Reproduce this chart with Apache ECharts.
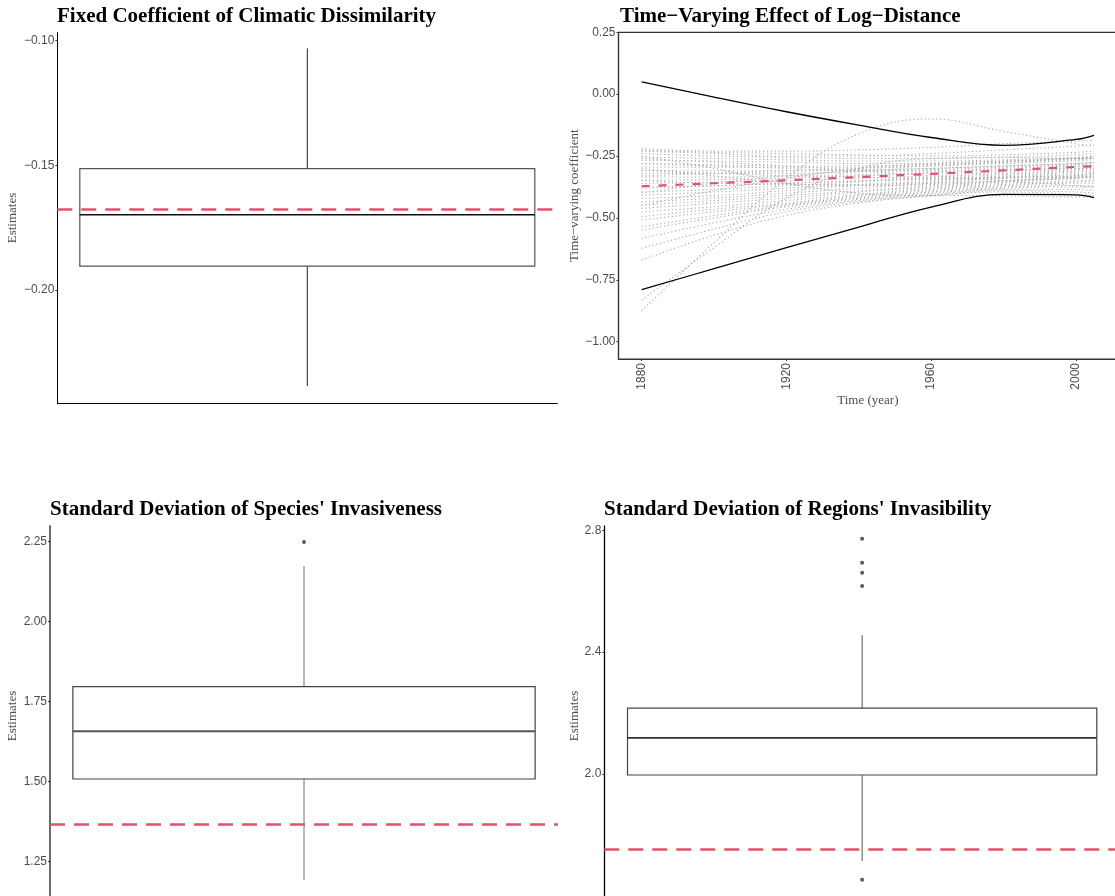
<!DOCTYPE html>
<html>
<head>
<meta charset="utf-8">
<title>Posterior estimates</title>
<script src="https://cdn.jsdelivr.net/npm/echarts@6/dist/echarts.min.js"></script>
<style>
  html, body { margin: 0; padding: 0; background: #fff; }
  #chart { width: 1115px; height: 896px; }
</style>
</head>
<body>
<div id="chart"></div>
<script>
// box summaries: [lower whisker, Q1, median, Q3, upper whisker]
const climaticBox = [-0.2385, -0.1904, -0.1698, -0.1513, -0.1031];
const climaticTrue = -0.1674;
const climaticTicks = [-0.20, -0.15, -0.10];

const speciesBox = [1.193, 1.5085, 1.6575, 1.797, 2.174];
const speciesOutliers = [2.249];
const speciesTrue = 1.3656;
const speciesTicks = [1.25, 1.50, 1.75, 2.00, 2.25];

const regionsBox = [1.713, 1.996, 2.118, 2.216, 2.456];
const regionsOutliers = [2.773, 2.694, 2.661, 2.618, 1.651];
const regionsTrue = 1.752;
const regionsTicks = [2.0, 2.4, 2.8];

// time-varying coefficient
const years = [1880, 1900, 1920, 1940, 1960, 1980, 2000, 2005];
const yearTicks = [1880, 1920, 1960, 2000];
const coefTicks = [-1.00, -0.75, -0.50, -0.25, 0.00, 0.25];
const upperBand = [0.050, -0.012, -0.071, -0.125, -0.175, -0.207, -0.183, -0.166];
const lowerBand = [-0.790, -0.705, -0.620, -0.537, -0.456, -0.405, -0.407, -0.418];
const meanCurve = [-0.372, -0.360, -0.348, -0.335, -0.322, -0.308, -0.294, -0.291];
// posterior draws (grey dotted)
const draws = [
  [-0.227, -0.235, -0.240, -0.245, -0.250, -0.245, -0.235, -0.230],
  [-0.240, -0.250, -0.255, -0.260, -0.260, -0.255, -0.245, -0.240],
  [-0.254, -0.260, -0.265, -0.270, -0.270, -0.265, -0.255, -0.250],
  [-0.267, -0.270, -0.275, -0.280, -0.280, -0.270, -0.260, -0.255],
  [-0.281, -0.285, -0.290, -0.290, -0.285, -0.275, -0.265, -0.260],
  [-0.294, -0.295, -0.295, -0.295, -0.290, -0.280, -0.270, -0.265],
  [-0.307, -0.310, -0.310, -0.305, -0.300, -0.290, -0.280, -0.275],
  [-0.321, -0.320, -0.320, -0.315, -0.305, -0.295, -0.285, -0.280],
  [-0.334, -0.335, -0.330, -0.325, -0.315, -0.300, -0.290, -0.285],
  [-0.348, -0.345, -0.340, -0.330, -0.320, -0.310, -0.295, -0.290],
  [-0.361, -0.355, -0.350, -0.340, -0.330, -0.315, -0.300, -0.295],
  [-0.375, -0.370, -0.360, -0.350, -0.335, -0.320, -0.305, -0.300],
  [-0.395, -0.385, -0.370, -0.355, -0.340, -0.325, -0.310, -0.305],
  [-0.408, -0.395, -0.380, -0.365, -0.350, -0.330, -0.315, -0.310],
  [-0.421, -0.410, -0.390, -0.370, -0.355, -0.335, -0.320, -0.315],
  [-0.435, -0.420, -0.400, -0.380, -0.360, -0.340, -0.325, -0.320],
  [-0.448, -0.430, -0.410, -0.390, -0.370, -0.350, -0.335, -0.330],
  [-0.462, -0.440, -0.420, -0.395, -0.375, -0.355, -0.340, -0.335],
  [-0.475, -0.455, -0.430, -0.405, -0.380, -0.360, -0.350, -0.345],
  [-0.495, -0.465, -0.440, -0.410, -0.385, -0.365, -0.355, -0.350],
  [-0.509, -0.475, -0.445, -0.415, -0.390, -0.370, -0.360, -0.360],
  [-0.536, -0.490, -0.450, -0.420, -0.395, -0.375, -0.370, -0.370],
  [-0.549, -0.500, -0.455, -0.425, -0.400, -0.380, -0.375, -0.375],
  [-0.583, -0.520, -0.465, -0.430, -0.405, -0.385, -0.385, -0.390],
  [-0.623, -0.545, -0.475, -0.435, -0.410, -0.390, -0.395, -0.400],
  [-0.670, -0.570, -0.490, -0.440, -0.410, -0.395, -0.405, -0.410],
  [-0.832, -0.620, -0.420, -0.300, -0.260, -0.255, -0.260, -0.260],
  [-0.875, -0.600, -0.340, -0.160, -0.100, -0.150, -0.200, -0.210],
  [-0.220, -0.230, -0.230, -0.225, -0.215, -0.200, -0.190, -0.187],
  [-0.230, -0.240, -0.250, -0.250, -0.240, -0.225, -0.210, -0.205],
  [-0.260, -0.275, -0.290, -0.310, -0.330, -0.350, -0.370, -0.375],
  [-0.250, -0.300, -0.360, -0.400, -0.410, -0.410, -0.415, -0.415],
  [-0.300, -0.330, -0.360, -0.370, -0.365, -0.350, -0.330, -0.320],
  [-0.350, -0.360, -0.365, -0.365, -0.360, -0.350, -0.340, -0.335],
  [-0.380, -0.370, -0.360, -0.350, -0.345, -0.340, -0.335, -0.330],
  [-0.400, -0.360, -0.330, -0.310, -0.300, -0.290, -0.280, -0.275],
  [-0.450, -0.390, -0.340, -0.300, -0.280, -0.270, -0.260, -0.255],
  [-0.330, -0.320, -0.310, -0.300, -0.290, -0.275, -0.260, -0.250],
  [-0.280, -0.290, -0.300, -0.310, -0.310, -0.305, -0.300, -0.300],
  [-0.310, -0.320, -0.330, -0.335, -0.340, -0.335, -0.330, -0.325]
];

const RED = '#DF536B';
const TICK_FONT = { color: '#4D4D4D', fontSize: 12, fontFamily: 'Liberation Sans, Arial, sans-serif' };
const NAME_FONT = { color: '#4D4D4D', fontSize: 13, fontFamily: 'Liberation Serif, Times New Roman, serif' };

function minus(s) { return s.replace('-', '\u2212'); }

// box + whiskers drawn through the axis scales
function boxRenderer(st) {
  return function (params, api) {
    const x = api.value(0);
    const pMin = api.coord([x, api.value(1)]);
    const pQ1 = api.coord([x, api.value(2)]);
    const pMed = api.coord([x, api.value(3)]);
    const pQ3 = api.coord([x, api.value(4)]);
    const pMax = api.coord([x, api.value(5)]);
    const half = api.size([1, 0])[0] * 0.91 / 2;
    const cx = pMed[0];
    return {
      type: 'group',
      children: [
        { type: 'line', shape: { x1: cx, y1: pMax[1], x2: cx, y2: pQ3[1] }, style: { stroke: st.whisker, lineWidth: 1 } },
        { type: 'line', shape: { x1: cx, y1: pQ1[1], x2: cx, y2: pMin[1] }, style: { stroke: st.whisker, lineWidth: 1 } },
        { type: 'rect', shape: { x: cx - half, y: pQ3[1], width: half * 2, height: pQ1[1] - pQ3[1] },
          style: { fill: 'none', stroke: st.box, lineWidth: 1.2 } },
        { type: 'line', shape: { x1: cx - half, y1: pMed[1], x2: cx + half, y2: pMed[1] }, style: { stroke: st.median, lineWidth: st.medianWidth } }
      ]
    };
  };
}

function refLine(v, dash, width) {
  return {
    silent: true,
    precision: 6,
    symbol: ['none', 'none'],
    label: { show: false },
    emphasis: { disabled: true },
    lineStyle: { color: RED, width: width, type: dash, cap: 'butt' },
    data: [{ yAxis: v }]
  };
}

function boxSeries(idx, box, trueVal, st) {
  return {
    type: 'custom',
    xAxisIndex: idx, yAxisIndex: idx,
    renderItem: boxRenderer(st),
    encode: { x: 0, y: [1, 2, 3, 4, 5] },
    data: [[0].concat(box)],
    markLine: refLine(trueVal, [15, 9], 2.5),
    silent: true,
    z: 3
  };
}

function outlierSeries(idx, vals) {
  return {
    type: 'scatter',
    xAxisIndex: idx, yAxisIndex: idx,
    symbol: 'circle', symbolSize: 4,
    itemStyle: { color: '#333' },
    silent: true,
    data: vals.map(v => [0, v])
  };
}

function boxYAxis(idx, min, max, ticks, digits, nameGap, axisColor, axisWidth) {
  return {
    type: 'value', gridIndex: idx, min: min, max: max,
    name: 'Estimates', nameLocation: 'middle', nameGap: nameGap, nameRotate: 90,
    nameTextStyle: NAME_FONT,
    axisLine: { show: true, onZero: false, lineStyle: { color: axisColor, width: axisWidth } },
    axisTick: { show: true, length: 2, customValues: ticks, lineStyle: { color: '#333' } },
    axisLabel: Object.assign({ margin: 3, customValues: ticks, formatter: v => minus(v.toFixed(digits)) }, TICK_FONT),
    splitLine: { show: false }
  };
}

function boxXAxis(idx, showLine) {
  return {
    type: 'category', gridIndex: idx, data: [''],
    axisLine: { show: showLine, onZero: false, lineStyle: { color: '#000', width: 1 } },
    axisTick: { show: false }, axisLabel: { show: false }, splitLine: { show: false }
  };
}

const series = [];
series.push(boxSeries(0, climaticBox, climaticTrue, { box: '#555', whisker: '#222', median: '#111', medianWidth: 1.5 }));
series.push(boxSeries(2, speciesBox, speciesTrue, { box: '#444', whisker: '#777', median: '#555', medianWidth: 2 }));
series.push(outlierSeries(2, speciesOutliers));
series.push(boxSeries(3, regionsBox, regionsTrue, { box: '#444', whisker: '#555', median: '#333', medianWidth: 1.6 }));
series.push(outlierSeries(3, regionsOutliers));

draws.forEach(function (d) {
  series.push({
    type: 'line', xAxisIndex: 1, yAxisIndex: 1, smooth: 0.4, showSymbol: false, silent: true,
    lineStyle: { color: '#A9A9A9', width: 1.1, type: [1.2, 2.6] },
    data: years.map((y, i) => [y, d[i]]), z: 1
  });
});
[upperBand, lowerBand].forEach(function (d) {
  series.push({
    type: 'line', xAxisIndex: 1, yAxisIndex: 1, smooth: 0.4, showSymbol: false, silent: true,
    lineStyle: { color: '#000', width: 1.3 },
    data: years.map((y, i) => [y, d[i]]), z: 3
  });
});
series.push({
  type: 'line', xAxisIndex: 1, yAxisIndex: 1, smooth: 0.4, showSymbol: false, silent: true,
  lineStyle: { color: RED, width: 2.2, type: [8, 9] },
  data: years.map((y, i) => [y, meanCurve[i]]), z: 4
});

const titleStyle = { color: '#000', fontSize: 21, fontWeight: 'bold', fontFamily: 'Liberation Serif, Times New Roman, serif' };

const option = {
  animation: false,
  backgroundColor: '#fff',
  title: [
    { text: 'Fixed Coefficient of Climatic Dissimilarity', left: 57, top: 6, textStyle: titleStyle, padding: 0 },
    { text: 'Time\u2212Varying Effect of Log\u2212Distance', left: 620, top: 6, textStyle: titleStyle, padding: 0 },
    { text: "Standard Deviation of Species' Invasiveness", left: 50, top: 499, textStyle: titleStyle, padding: 0 },
    { text: "Standard Deviation of Regions' Invasibility", left: 604, top: 499, textStyle: titleStyle, padding: 0 }
  ],
  grid: [
    { left: 57.3, top: 32.7, width: 500, height: 370.6, outerBoundsMode: 'none' },
    { left: 618.5, top: 32.3, width: 498.7, height: 326.7, outerBoundsMode: 'none',
      show: true, borderColor: '#333', borderWidth: 1.2, backgroundColor: 'transparent' },
    { left: 50, top: 526, width: 508, height: 380, outerBoundsMode: 'none' },
    { left: 604.3, top: 526, width: 515.7, height: 380, outerBoundsMode: 'none' }
  ],
  xAxis: [
    boxXAxis(0, true),
    {
      type: 'value', gridIndex: 1, min: 1873.6, max: 2011.4,
      name: 'Time (year)', nameLocation: 'middle', nameGap: 35, nameTextStyle: NAME_FONT,
      axisLine: { show: true, onZero: false, lineStyle: { color: '#333', width: 1.2 } },
      axisTick: { show: true, length: 2, customValues: yearTicks, lineStyle: { color: '#333' } },
      axisLabel: Object.assign({ rotate: 90, margin: 4, customValues: yearTicks, formatter: v => String(v) }, TICK_FONT),
      splitLine: { show: false }
    },
    boxXAxis(2, false),
    boxXAxis(3, false)
  ],
  yAxis: [
    boxYAxis(0, -0.2454, -0.0968, climaticTicks, 2, 38, '#000', 1),
    {
      type: 'value', gridIndex: 1, min: -1.07, max: 0.25,
      name: 'Time\u2212varying coefficient', nameLocation: 'middle', nameGap: 36, nameRotate: 90,
      nameTextStyle: NAME_FONT,
      axisLine: { show: true, onZero: false, lineStyle: { color: '#333', width: 1.2 } },
      axisTick: { show: true, length: 2, customValues: coefTicks, lineStyle: { color: '#333' } },
      axisLabel: Object.assign({ margin: 3, customValues: coefTicks, formatter: v => minus(v.toFixed(2)) }, TICK_FONT),
      splitLine: { show: false }
    },
    boxYAxis(2, 1.1116, 2.299, speciesTicks, 2, 31, '#6B6B6B', 2),
    boxYAxis(3, 1.565, 2.815, regionsTicks, 1, 23, '#000', 1.3)
  ],
  series: series
};

const chart = echarts.init(document.getElementById('chart'), null, { renderer: 'canvas' });
chart.setOption(option);
</script>
</body>
</html>
